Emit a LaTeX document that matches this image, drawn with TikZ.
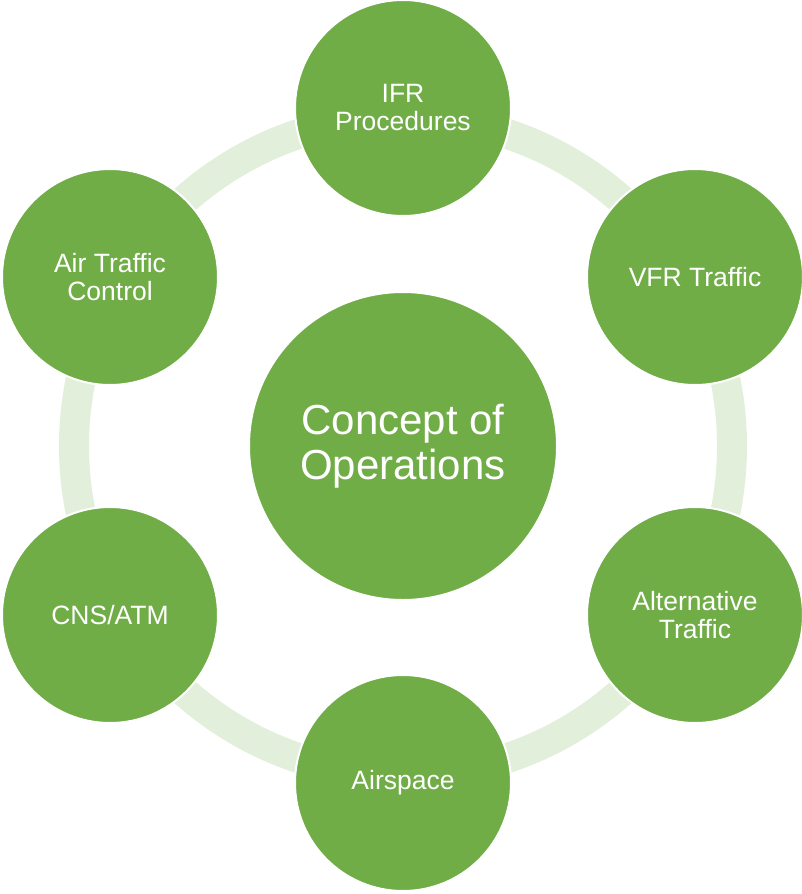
\documentclass[tikz,border=0pt]{standalone}
\usepackage{fontspec}
\setmainfont{Liberation Sans}
\definecolor{cgreen}{HTML}{70AD47}
\definecolor{cring}{HTML}{E2EFDA}
\begin{document}
\begin{tikzpicture}[x=1pt,y=-1pt,
  outer/.style={circle,fill=cgreen,draw=white,line width=2pt,minimum size=216pt,inner sep=0pt,
    text=white,align=center,font=\fontsize{26.5}{28}\selectfont},
  centre/.style={circle,fill=cgreen,draw=white,line width=2pt,minimum size=308pt,inner sep=0pt,
    text=white,align=center,font=\fontsize{42}{45}\selectfont}]
\useasboundingbox (0,0) rectangle (802,894);
\draw[cring,line width=30pt] (403,446) circle[radius=329];
\node[centre] (c) at (403,446) {Concept of\\Operations};
\node[outer] (ifr) at (403,108) {IFR\\Procedures};
\node[outer] (vfr) at (695,277) {VFR Traffic};
\node[outer] (alt) at (695,615) {Alternative\\Traffic};
\node[outer] (asp) at (403,783) {Airspace};
\node[outer] (cns) at (110,615) {CNS/ATM};
\node[outer] (atc) at (110,277) {Air Traffic\\Control};
\end{tikzpicture}
\end{document}
